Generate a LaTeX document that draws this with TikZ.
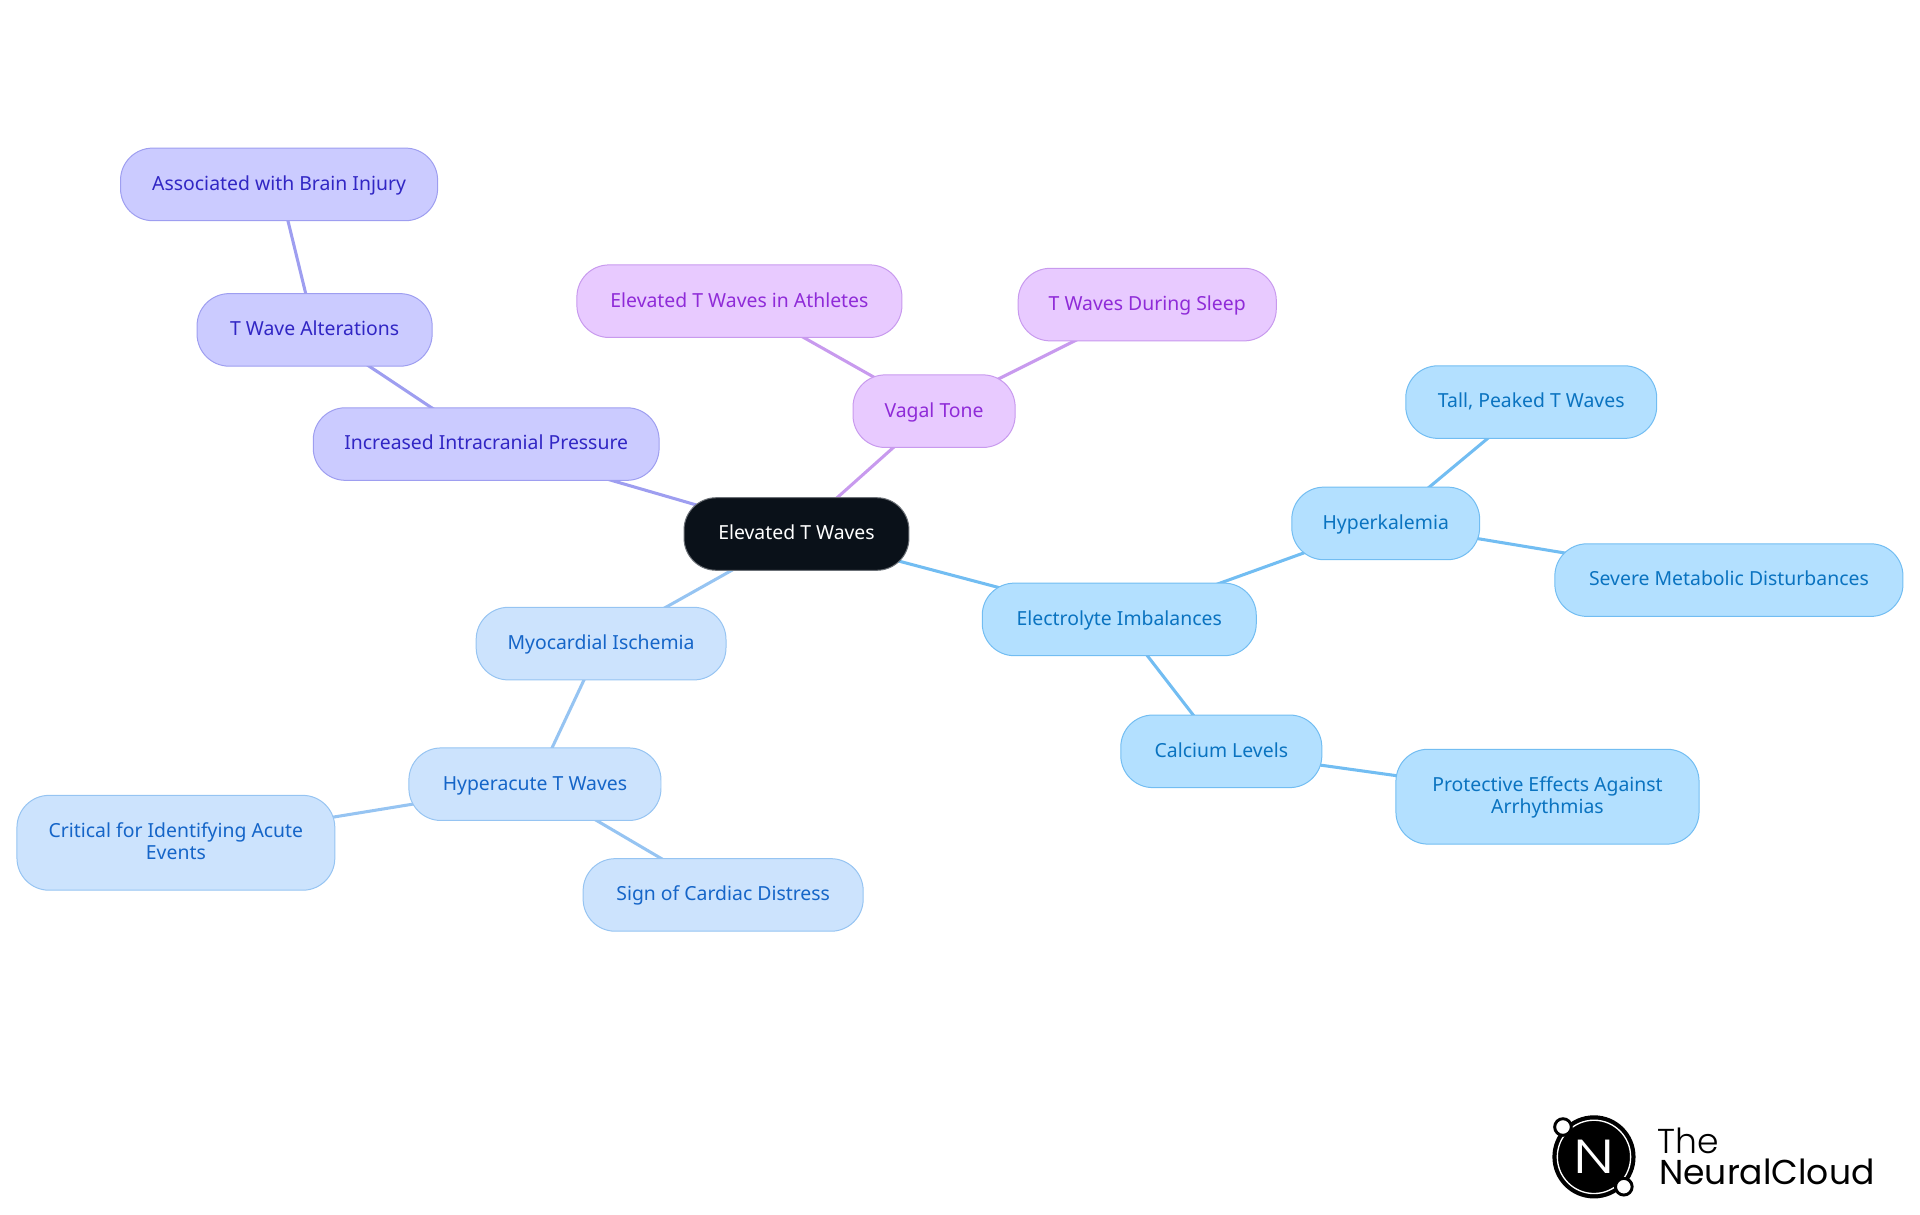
\documentclass[tikz,border=0pt]{standalone}
\usepackage{fontspec}
\setmainfont{Noto Sans}
\newfontfamily\logofont[UprightFont={* Light}]{Poppins}
\newfontfamily\cloudfont{Poppins}
\usetikzlibrary{positioning,backgrounds}
\definecolor{rootbg}{HTML}{0A1119}
\definecolor{rootln}{HTML}{6B7076}
\definecolor{elecbg}{HTML}{B3E0FF}
\definecolor{elecln}{HTML}{72BDF2}
\definecolor{electx}{HTML}{0A73C0}
\definecolor{myobg}{HTML}{CCE3FD}
\definecolor{myoln}{HTML}{96C4F2}
\definecolor{myotx}{HTML}{1565C8}
\definecolor{icpbg}{HTML}{CBCBFF}
\definecolor{icpln}{HTML}{9E9EF0}
\definecolor{icptx}{HTML}{3126C4}
\definecolor{vagbg}{HTML}{E8CAFF}
\definecolor{vagln}{HTML}{C89AEE}
\definecolor{vagtx}{HTML}{8F2BD8}

\begin{document}
\begin{tikzpicture}[font=\fontsize{14.6}{16.5}\selectfont,on grid,
  b/.style={draw,line width=.75pt,rounded corners=8.5mm,minimum height=19.2mm,inner sep=0pt,
    text height=12.3pt,text depth=3.5pt,align=center},
  twolines/.style={minimum height=25.1mm,text height=28.8pt},
  root/.style={b,fill=rootbg,draw=rootln,text=white},
  elec/.style={b,fill=elecbg,draw=elecln,text=electx},
  myo/.style={b,fill=myobg,draw=myoln,text=myotx},
  icp/.style={b,fill=icpbg,draw=icpln,text=icptx},
  vag/.style={b,fill=vagbg,draw=vagln,text=vagtx},
  link/.style={line width=2.3pt}]
  \useasboundingbox (-21.074,14.129) rectangle (29.726,-18.018);

  \node[root,minimum width=59.5mm] (waves) {Elevated T Waves};

  \node[elec,minimum width=72.5mm,below right=22.6mm and 85.4mm of waves] (imbal) {Electrolyte Imbalances};
  \node[elec,minimum width=49.7mm,above right=25.4mm and 70.5mm of imbal] (hyperk) {Hyperkalemia};
  \node[elec,minimum width=66.4mm,above right=32.1mm and 38.5mm of hyperk] (peaked) {Tall, Peaked T Waves};
  \node[elec,minimum width=92.1mm,below right=15mm and 90.8mm of hyperk] (severe) {Severe Metabolic Disturbances};
  \node[elec,minimum width=53.2mm,below right=34.9mm and 27mm of imbal] (calcium) {Calcium Levels};
  \node[elec,twolines,minimum width=80.2mm,below right=12mm and 86.3mm of calcium] (protect) {Protective Effects Against\\Arrhythmias};

  \node[myo,minimum width=66.1mm,below left=29mm and 51.7mm of waves] (ischemia) {Myocardial Ischemia};
  \node[myo,minimum width=66.7mm,below left=37.2mm and 17.5mm of ischemia] (hyperac) {Hyperacute T Waves};
  \node[myo,twolines,minimum width=84.1mm,below left=15.5mm and 95mm of hyperac] (acute) {Critical for Identifying Acute\\Events};
  \node[myo,minimum width=74.1mm,below right=29.3mm and 49.8mm of hyperac] (distress) {Sign of Cardiac Distress};

  \node[icp,minimum width=91.5mm,above left=23.8mm and 82.1mm of waves] (pressure) {Increased Intracranial Pressure};
  \node[icp,minimum width=62.2mm,above left=30.2mm and 45.4mm of pressure] (alter) {T Wave Alterations};
  \node[icp,minimum width=83.9mm,above left=38.5mm and 9.4mm of alter] (injury) {Associated with Brain Injury};

  \node[vag,minimum width=42.9mm,above right=32.5mm and 36.4mm of waves] (vagal) {Vagal Tone};
  \node[vag,minimum width=86mm,above left=29.1mm and 51.5mm of vagal] (athletes) {Elevated T Waves in Athletes};
  \node[vag,minimum width=68.3mm,above right=28.2mm and 56.4mm of vagal] (sleep) {T Waves During Sleep};

  % links run behind the boxes
  \begin{scope}[on background layer]
    \draw[link,elecln] (waves.center)--(imbal.center);
    \draw[link,elecln] (imbal.center)--(hyperk.center);
    \draw[link,elecln] (hyperk.center)--(peaked.center);
    \draw[link,elecln] (hyperk.center)--(severe.center);
    \draw[link,elecln] (imbal.center)--(calcium.center);
    \draw[link,elecln] (calcium.center)--(protect.center);
    \draw[link,myoln] (waves.center)--(ischemia.center);
    \draw[link,myoln] (ischemia.center)--(hyperac.center);
    \draw[link,myoln] (hyperac.center)--(acute.center);
    \draw[link,myoln] (hyperac.center)--(distress.center);
    \draw[link,icpln] (waves.center)--(pressure.center);
    \draw[link,icpln] (pressure.center)--(alter.center);
    \draw[link,icpln] (alter.center)--(injury.center);
    \draw[link,vagln] (waves.center)--(vagal.center);
    \draw[link,vagln] (vagal.center)--(athletes.center);
    \draw[link,vagln] (vagal.center)--(sleep.center);
  \end{scope}

  % logo
  \node[circle,fill=black,minimum size=22mm,below right=164.8mm and 211mm of waves] (logo) {};
  \node[circle,draw=white,line width=1pt,minimum size=19.4mm,inner sep=0pt,text=white,font=\logofont\fontsize{36}{36}\selectfont] at (logo) (letter) {\scalebox{1.25}[1]{N}};
  \node[circle,fill=white,draw=black,line width=2.2pt,minimum size=4.4mm,inner sep=0pt,above left=7.9mm and 8.2mm of logo] (dota) {};
  \node[circle,fill=white,draw=black,line width=2.2pt,minimum size=4.4mm,inner sep=0pt,below right=7.9mm and 7.9mm of logo] (dotb) {};
  \node[anchor=base west,inner sep=0pt,font=\logofont\fontsize{26}{26}\selectfont] at (22.77,-16.39) (the) {The};
  \node[anchor=base west,inner sep=0pt,font=\cloudfont\fontsize{26}{26}\selectfont] at (22.82,-17.22) (cloud) {NeuralCloud};
\end{tikzpicture}
\end{document}
